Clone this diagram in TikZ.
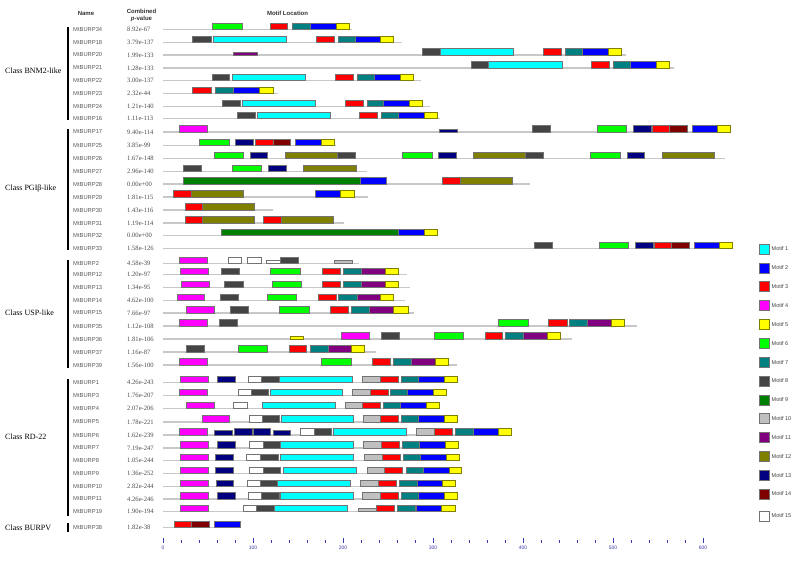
\documentclass[tikz,border=0pt]{standalone}
\usepackage{fontspec}
\setmainfont{Liberation Serif}
\setsansfont{Liberation Sans}
\usepackage{tikz}
\usepackage{xcolor}
\usetikzlibrary{positioning}

\definecolor{motA}{HTML}{00FFFF}
\definecolor{motB}{HTML}{0000FF}
\definecolor{motC}{HTML}{FF0000}
\definecolor{motD}{HTML}{FF00FF}
\definecolor{motE}{HTML}{FFFF00}
\definecolor{motF}{HTML}{00FF00}
\definecolor{motG}{HTML}{008080}
\definecolor{motH}{HTML}{444444}
\definecolor{motI}{HTML}{008000}
\definecolor{motJ}{HTML}{C0C0C0}
\definecolor{motK}{HTML}{800080}
\definecolor{motL}{HTML}{808000}
\definecolor{motM}{HTML}{000080}
\definecolor{motN}{HTML}{800000}
\definecolor{motO}{HTML}{FFFFFF}
\definecolor{seqgray}{HTML}{C8C8C8}
\definecolor{axblue}{HTML}{3A3AA8}

% one sequence: y, name, combined p-value, end of line, motif boxes (start/end/style)
\newcommand{\burprow}[5]{%
  \node[gene] (#2) at (73,#1) {#2};
  \node[pval] (#2-p) at (127,#1) {#3};
  \draw[seq] (163,#1) -- (#4,#1);
  \foreach \s/\e/\m in {#5} {
    \node[\m, minimum width={(\e-\s)*1pt}] at (\s,#1) {};
  }
}

\begin{document}
\begin{tikzpicture}[
  x=1pt, y=-1pt,
  motif/.style={draw=black!55, line width=0.6pt, inner sep=0pt, outer sep=0pt, minimum height=6.5pt, anchor=south west},
  m1/.style={motif, fill=motA}, m2/.style={motif, fill=motB}, m3/.style={motif, fill=motC},
  m4/.style={motif, fill=motD}, m5/.style={motif, fill=motE, draw=motL}, m6/.style={motif, fill=motF},
  m7/.style={motif, fill=motG}, m8/.style={motif, fill=motH}, m9/.style={motif, fill=motI},
  m10/.style={motif, fill=motJ}, m11/.style={motif, fill=motK}, m12/.style={motif, fill=motL},
  m13/.style={motif, fill=motM}, m14/.style={motif, fill=motN}, m15/.style={motif, fill=motO},
  w5/.style={m5, minimum height=3pt}, w10/.style={m10, minimum height=3pt},
  w11/.style={m11, minimum height=3pt}, w13/.style={m13, minimum height=3pt},
  w15/.style={m15, minimum height=3pt}, n13/.style={m13, minimum height=4.8pt},
  seq/.style={draw=seqgray, line width=1.1pt},
  gene/.style={anchor=west, inner sep=0pt, font=\sffamily\fontsize{5.8}{6}\selectfont, text=black!65},
  pval/.style={anchor=west, inner sep=0pt, font=\fontsize{6.6}{7}\selectfont, text=black!70},
  head/.style={inner sep=0pt, font=\sffamily\bfseries\fontsize{6}{7}\selectfont, text=black!80},
  cls/.style={anchor=west, inner sep=0pt, font=\fontsize{8}{9}\selectfont},
  clsbar/.style={line width=1.6pt},
  axtick/.style={draw=axblue, line width=0.6pt},
  axlab/.style={inner sep=0pt, font=\sffamily\fontsize{5}{6}\selectfont, text=axblue},
  legtxt/.style={inner sep=0pt, font=\sffamily\fontsize{5.5}{6}\selectfont, text=black!75}
]
\useasboundingbox (0,0) rectangle (800,573);

\node[head] (hname) at (86,13) {Name};
\node[head] (hcomb) at (141.5,11) {Combined};
\node[head] (hpval) at (141.5,18.5) {\textit{p}-value};
\node[head] (hmotif) at (287.5,13) {Motif Location};

% Class BNM2-like
\node[cls] (bnm) at (5,71) {Class BNM2-like};
\draw[clsbar] (68,27) -- (68,120);
\burprow{29.3}{MtBURP34}{8.92e-67}{352}{212/242/m6, 270/287/m3, 292/310/m7, 310/336/m2, 336/349/m5}
\burprow{42.3}{MtBURP18}{3.79e-137}{402}{192/211/m8, 213/286/m1, 316/334/m3, 338/355/m7, 355/380/m2, 380/393/m5}
\burprow{55}{MtBURP20}{1.99e-133}{626}{233/257/w11, 422/440/m8, 440/513/m1, 543/561/m3, 565/582/m7, 582/608/m2, 608/621/m5}
\burprow{68}{MtBURP21}{1.28e-133}{674}{471/488/m8, 488/562/m1, 591/609/m3, 613/630/m7, 630/656/m2, 656/669/m5}
\burprow{80.7}{MtBURP22}{3.00e-137}{421}{212/229/m8, 232/305/m1, 335/353/m3, 357/374/m7, 374/400/m2, 400/413/m5}
\burprow{93.7}{MtBURP23}{2.32e-44}{278}{192/211/m3, 215/233/m7, 233/259/m2, 259/273/m5}
\burprow{106.7}{MtBURP24}{1.21e-140}{430}{222/240/m8, 242/315/m1, 345/363/m3, 367/383/m7, 383/409/m2, 409/422/m5}
\burprow{118.7}{MtBURP16}{1.11e-113}{440}{237/255/m8, 257/330/m1, 359/377/m3, 381/398/m7, 398/424/m2, 424/437/m5}

% Class PGIb-like
\node[cls] (pgi) at (5,188.3) {Class PGIβ-like};
\draw[clsbar] (68,129) -- (68,250);
\burprow{132}{MtBURP17}{9.40e-114}{730}{179/207/m4, 439/457/w13, 532/550/m8, 597/626/m6, 633/651/m13, 652/669/m3, 669/687/m14, 692/717/m2, 717/730/m5}
\burprow{145.7}{MtBURP25}{3.85e-99}{336}{199/229/m6, 235/253/m13, 255/273/m3, 273/290/m14, 295/321/m2, 321/334/m5}
\burprow{158.3}{MtBURP26}{1.67e-148}{725}{214/243/m6, 250/267/m13, 285/337/m12, 337/355/m8, 402/432/m6, 438/456/m13, 473/525/m12, 525/543/m8, 590/620/m6, 627/644/m13, 662/714/m12}
\burprow{171.7}{MtBURP27}{2.96e-140}{367}{183/201/m8, 232/261/m6, 268/286/m13, 303/356/m12}
\burprow{184}{MtBURP28}{0.00e+00}{530}{183/360/m9, 360/386/m2, 442/460/m3, 460/512/m12}
\burprow{197}{MtBURP29}{1.81e-115}{368}{173/191/m3, 191/243/m12, 315/340/m2, 340/354/m5}
\burprow{210}{MtBURP30}{1.43e-116}{273}{185/202/m3, 202/254/m12}
\burprow{223}{MtBURP31}{1.19e-114}{344}{185/202/m3, 202/254/m12, 263/281/m3, 281/333/m12}
\burprow{235.7}{MtBURP32}{0.00e+00}{437}{221/398/m9, 398/424/m2, 424/437/m5}
\burprow{248.3}{MtBURP33}{1.58e-126}{732}{534/552/m8, 599/628/m6, 635/653/m13, 654/671/m3, 671/689/m14, 694/719/m2, 719/732/m5}

% Class USP-like
\node[cls] (usp) at (5,312.7) {Class USP-like};
\draw[clsbar] (68,259.5) -- (68,368);
\burprow{263.3}{MtBURP2}{4.58e-39}{359}{179/207/m4, 228/241/m15, 247/261/m15, 266/280/w15, 280/298/m8, 334/352/w10}
\burprow{274.7}{MtBURP12}{1.20e-97}{407}{180/208/m4, 221/239/m8, 270/300/m6, 322/340/m3, 343/361/m7, 361/385/m11, 385/398/m5}
\burprow{287.3}{MtBURP13}{1.34e-95}{410}{181/209/m4, 224/243/m8, 272/301/m6, 322/340/m3, 343/361/m7, 361/385/m11, 385/398/m5}
\burprow{300.3}{MtBURP14}{4.62e-100}{405}{177/204/m4, 220/238/m8, 267/296/m6, 318/336/m3, 338/357/m7, 357/380/m11, 380/393/m5}
\burprow{313}{MtBURP15}{7.66e-97}{414}{186/214/m4, 230/248/m8, 279/309/m6, 330/348/m3, 351/369/m7, 369/393/m11, 393/408/m5}
\burprow{326}{MtBURP35}{1.12e-108}{637}{179/207/m4, 219/237/m8, 498/528/m6, 548/567/m3, 569/587/m7, 587/611/m11, 611/624/m5}
\burprow{339}{MtBURP36}{1.81e-106}{572}{290/303/w5, 341/369/m4, 381/399/m8, 434/463/m6, 485/502/m3, 505/523/m7, 523/547/m11, 547/560/m5}
\burprow{352}{MtBURP37}{1.16e-87}{376}{186/204/m8, 238/267/m6, 289/306/m3, 310/328/m7, 328/351/m11, 351/364/m5}
\burprow{365}{MtBURP39}{1.56e-100}{457}{179/207/m4, 321/351/m6, 372/390/m3, 393/411/m7, 411/435/m11, 435/448/m5}

% Class RD-22
\node[cls] (rd) at (5,436.7) {Class RD-22};
\draw[clsbar] (68,379) -- (68,516);
\burprow{382.7}{MtBURP1}{4.26e-243}{457}{180/208/m4, 217/235/m13, 248/261/m15, 261/279/m8, 279/352/m1, 362/380/m10, 380/398/m3, 401/418/m7, 418/444/m2, 444/457/m5}
\burprow{395.7}{MtBURP3}{1.76e-207}{446}{179/207/m4, 238/251/m15, 251/268/m8, 270/342/m1, 352/370/m10, 370/388/m3, 390/407/m7, 407/433/m2, 433/446/m5}
\burprow{408.7}{MtBURP4}{2.07e-206}{439}{186/214/m4, 233/247/m15, 262/335/m1, 345/362/m10, 362/380/m3, 383/400/m7, 400/426/m2, 426/439/m5}
\burprow{422}{MtBURP5}{1.78e-221}{457}{202/229/m4, 249/262/m15, 262/279/m8, 281/353/m1, 363/380/m10, 380/398/m3, 401/418/m7, 418/444/m2, 444/457/m5}
\burprow{435}{MtBURP6}{1.62e-239}{511}{179/207/m4, 214/232/n13, 234/252/m13, 253/270/m13, 273/290/n13, 300/314/m15, 314/331/m8, 333/406/m1, 416/434/m10, 434/452/m3, 455/473/m7, 473/498/m2, 498/511/m5}
\burprow{448}{MtBURP7}{7.19e-247}{458}{180/208/m4, 217/235/m13, 249/263/m15, 263/280/m8, 280/353/m1, 363/381/m10, 381/399/m3, 402/419/m7, 419/445/m2, 445/458/m5}
\burprow{460.7}{MtBURP8}{1.05e-244}{459}{180/208/m4, 215/233/m13, 246/260/m15, 260/278/m8, 280/353/m1, 364/382/m10, 382/400/m3, 403/420/m7, 420/446/m2, 446/459/m5}
\burprow{473.7}{MtBURP9}{1.36e-252}{461}{180/208/m4, 215/233/m13, 249/263/m15, 263/280/m8, 283/356/m1, 367/384/m10, 384/402/m3, 406/423/m7, 423/449/m2, 449/461/m5}
\burprow{486.7}{MtBURP10}{2.82e-244}{455}{180/208/m4, 216/233/m13, 247/260/m15, 260/277/m8, 277/350/m1, 360/378/m10, 378/396/m3, 399/417/m7, 417/442/m2, 442/455/m5}
\burprow{499}{MtBURP11}{4.26e-246}{457}{180/208/m4, 217/235/m13, 248/261/m15, 261/279/m8, 280/353/m1, 362/380/m10, 380/398/m3, 401/418/m7, 418/444/m2, 444/457/m5}
\burprow{511.7}{MtBURP19}{1.90e-194}{455}{180/208/m4, 243/256/m15, 256/274/m8, 274/347/m1, 358/376/w10, 376/394/m3, 397/415/m7, 416/441/m2, 441/455/m5}

% Class BURPV
\node[cls] (burpv) at (5,527.3) {Class BURPV};
\draw[clsbar] (68,523) -- (68,532);
\burprow{527.3}{MtBURP38}{1.82e-38}{240}{174/191/m3, 191/209/m14, 214/240/m2}

% axis
\foreach \v in {0,20,...,600}
  \draw[axtick] ({163+0.9*\v},540) -- ({163+0.9*\v},543);
\foreach \v in {0,100,...,600} {
  \draw[axtick] ({163+0.9*\v},538) -- ({163+0.9*\v},543);
  \node[axlab] (ax\v) at ({163+0.9*\v},548) {\v};
}

% legend
\foreach \i/\yy in {1/249, 2/267.9, 3/286.7, 4/305.6, 5/324.4, 6/343.2, 7/362.1, 8/380.9, 9/399.8, 10/418.6, 11/437.4, 12/456.3, 13/475.1, 14/494, 15/516} {
  \node[m\i, anchor=center, minimum width=10pt, minimum height=10pt] (leg\i) at (764,\yy) {};
  \node[legtxt, right=2.5pt of leg\i] (legt\i) {Motif \i};
}
\end{tikzpicture}
\end{document}
